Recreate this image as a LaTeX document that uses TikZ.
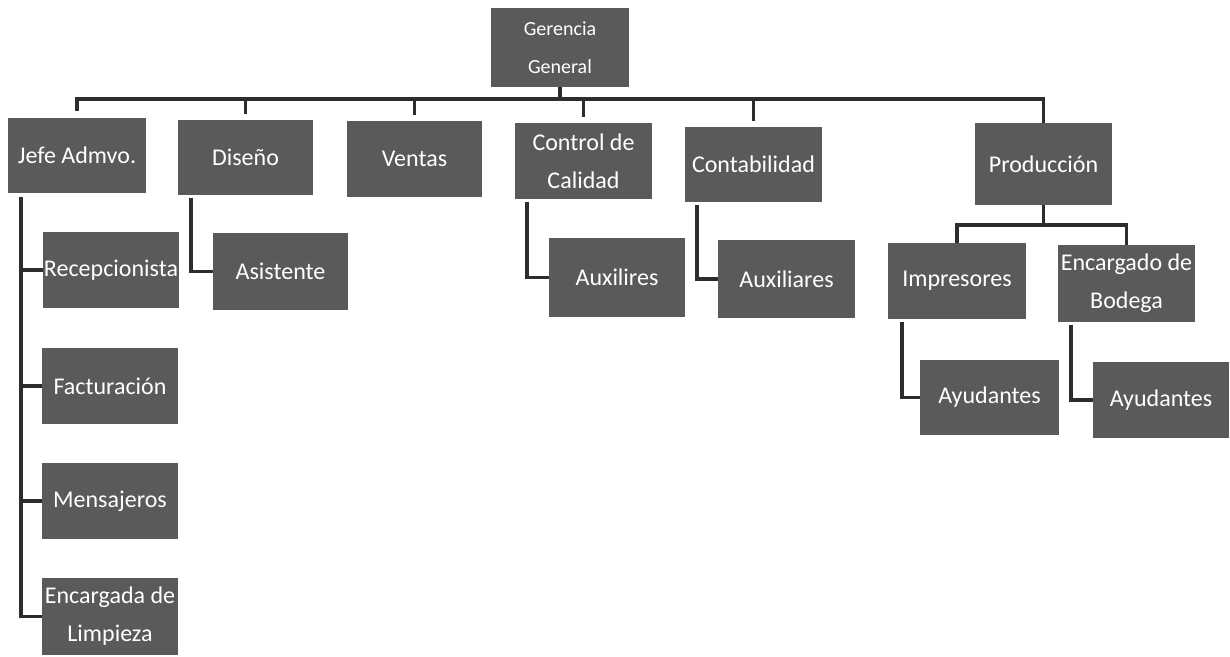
\documentclass[tikz,border=0pt]{standalone}
\usepackage{fontspec}
\setmainfont{Carlito}
\definecolor{boxgray}{RGB}{90,90,90}
\definecolor{linegray}{RGB}{45,45,45}
\begin{document}
\begin{tikzpicture}[x=1pt,y=-1pt,
  box/.style={fill=boxgray,text=white,inner sep=0pt,align=center,
    font=\fontsize{24}{38}\selectfont},
  conn/.style={draw=linegray,line width=3.2pt}]
\useasboundingbox (0,0) rectangle (1230,656);
% boxes
\node[box,minimum width=138pt,minimum height=79pt,font=\fontsize{20}{38}\selectfont] (ger) at (560,47.5) {Gerencia\\General};
\node[box,minimum width=138pt,minimum height=75pt] (jefe) at (77,155.5) {Jefe Admvo.};
\node[box,minimum width=135pt,minimum height=75pt] (dis) at (245.5,157.5) {Diseño};
\node[box,minimum width=135pt,minimum height=76pt] (ven) at (414.5,159) {Ventas};
\node[box,minimum width=137pt,minimum height=76pt] (cal) at (583.5,161) {Control de\\Calidad};
\node[box,minimum width=137pt,minimum height=75pt] (cont) at (753.5,164.5) {Contabilidad};
\node[box,minimum width=137pt,minimum height=82pt] (prod) at (1043.5,164) {Producción};
\node[box,minimum width=136pt,minimum height=76pt] (rec) at (111,270) {Recepcionista};
\node[box,minimum width=136pt,minimum height=76pt] (fac) at (110,386) {Facturación};
\node[box,minimum width=136pt,minimum height=76pt] (men) at (110,501) {Mensajeros};
\node[box,minimum width=136pt,minimum height=77pt] (lim) at (110,616.5) {Encargada de\\Limpieza};
\node[box,minimum width=135pt,minimum height=77pt] (asi) at (280.5,271.5) {Asistente};
\node[box,minimum width=136pt,minimum height=79pt] (aux1) at (617,277.5) {Auxilires};
\node[box,minimum width=137pt,minimum height=78pt] (aux2) at (786.5,279) {Auxiliares};
\node[box,minimum width=138pt,minimum height=76pt] (imp) at (957,281) {Impresores};
\node[box,minimum width=137pt,minimum height=77pt] (bod) at (1126.5,283.5) {Encargado de\\Bodega};
\node[box,minimum width=139pt,minimum height=75pt] (ay1) at (989.5,397.5) {Ayudantes};
\node[box,minimum width=136pt,minimum height=76pt] (ay2) at (1161,400) {Ayudantes};
% connectors
\coordinate (bus) at (560,99);
\draw[conn] (ger.south) -- (bus);
\draw[conn,shorten <=7pt] (jefe.north) |- (bus) -| (prod.north);
\foreach \n in {dis,ven,cal,cont} \draw[conn,shorten <=6pt] (\n.north) -- (\n.north |- bus);
\coordinate (jv) at (21,197);
\draw[conn] (jv) |- (lim.west);
\foreach \n in {rec,fac,men} \draw[conn] (jv |- \n.west) -- (\n.west);
\coordinate (dv) at (191,198);
\draw[conn] (dv) |- (asi.west);
\coordinate (cv) at (527,202);
\draw[conn] (cv) |- (aux1.west);
\coordinate (tv) at (697,205);
\draw[conn] (tv) |- (aux2.west);
\coordinate (pb) at (1043.5,225);
\draw[conn] (prod.south) -- (pb);
\draw[conn] (imp.north) |- (pb) -| (bod.north);
\coordinate (iv) at (902,322);
\draw[conn] (iv) |- (ay1.west);
\coordinate (bv) at (1071,325);
\draw[conn] (bv) |- (ay2.west);
\end{tikzpicture}
\end{document}
